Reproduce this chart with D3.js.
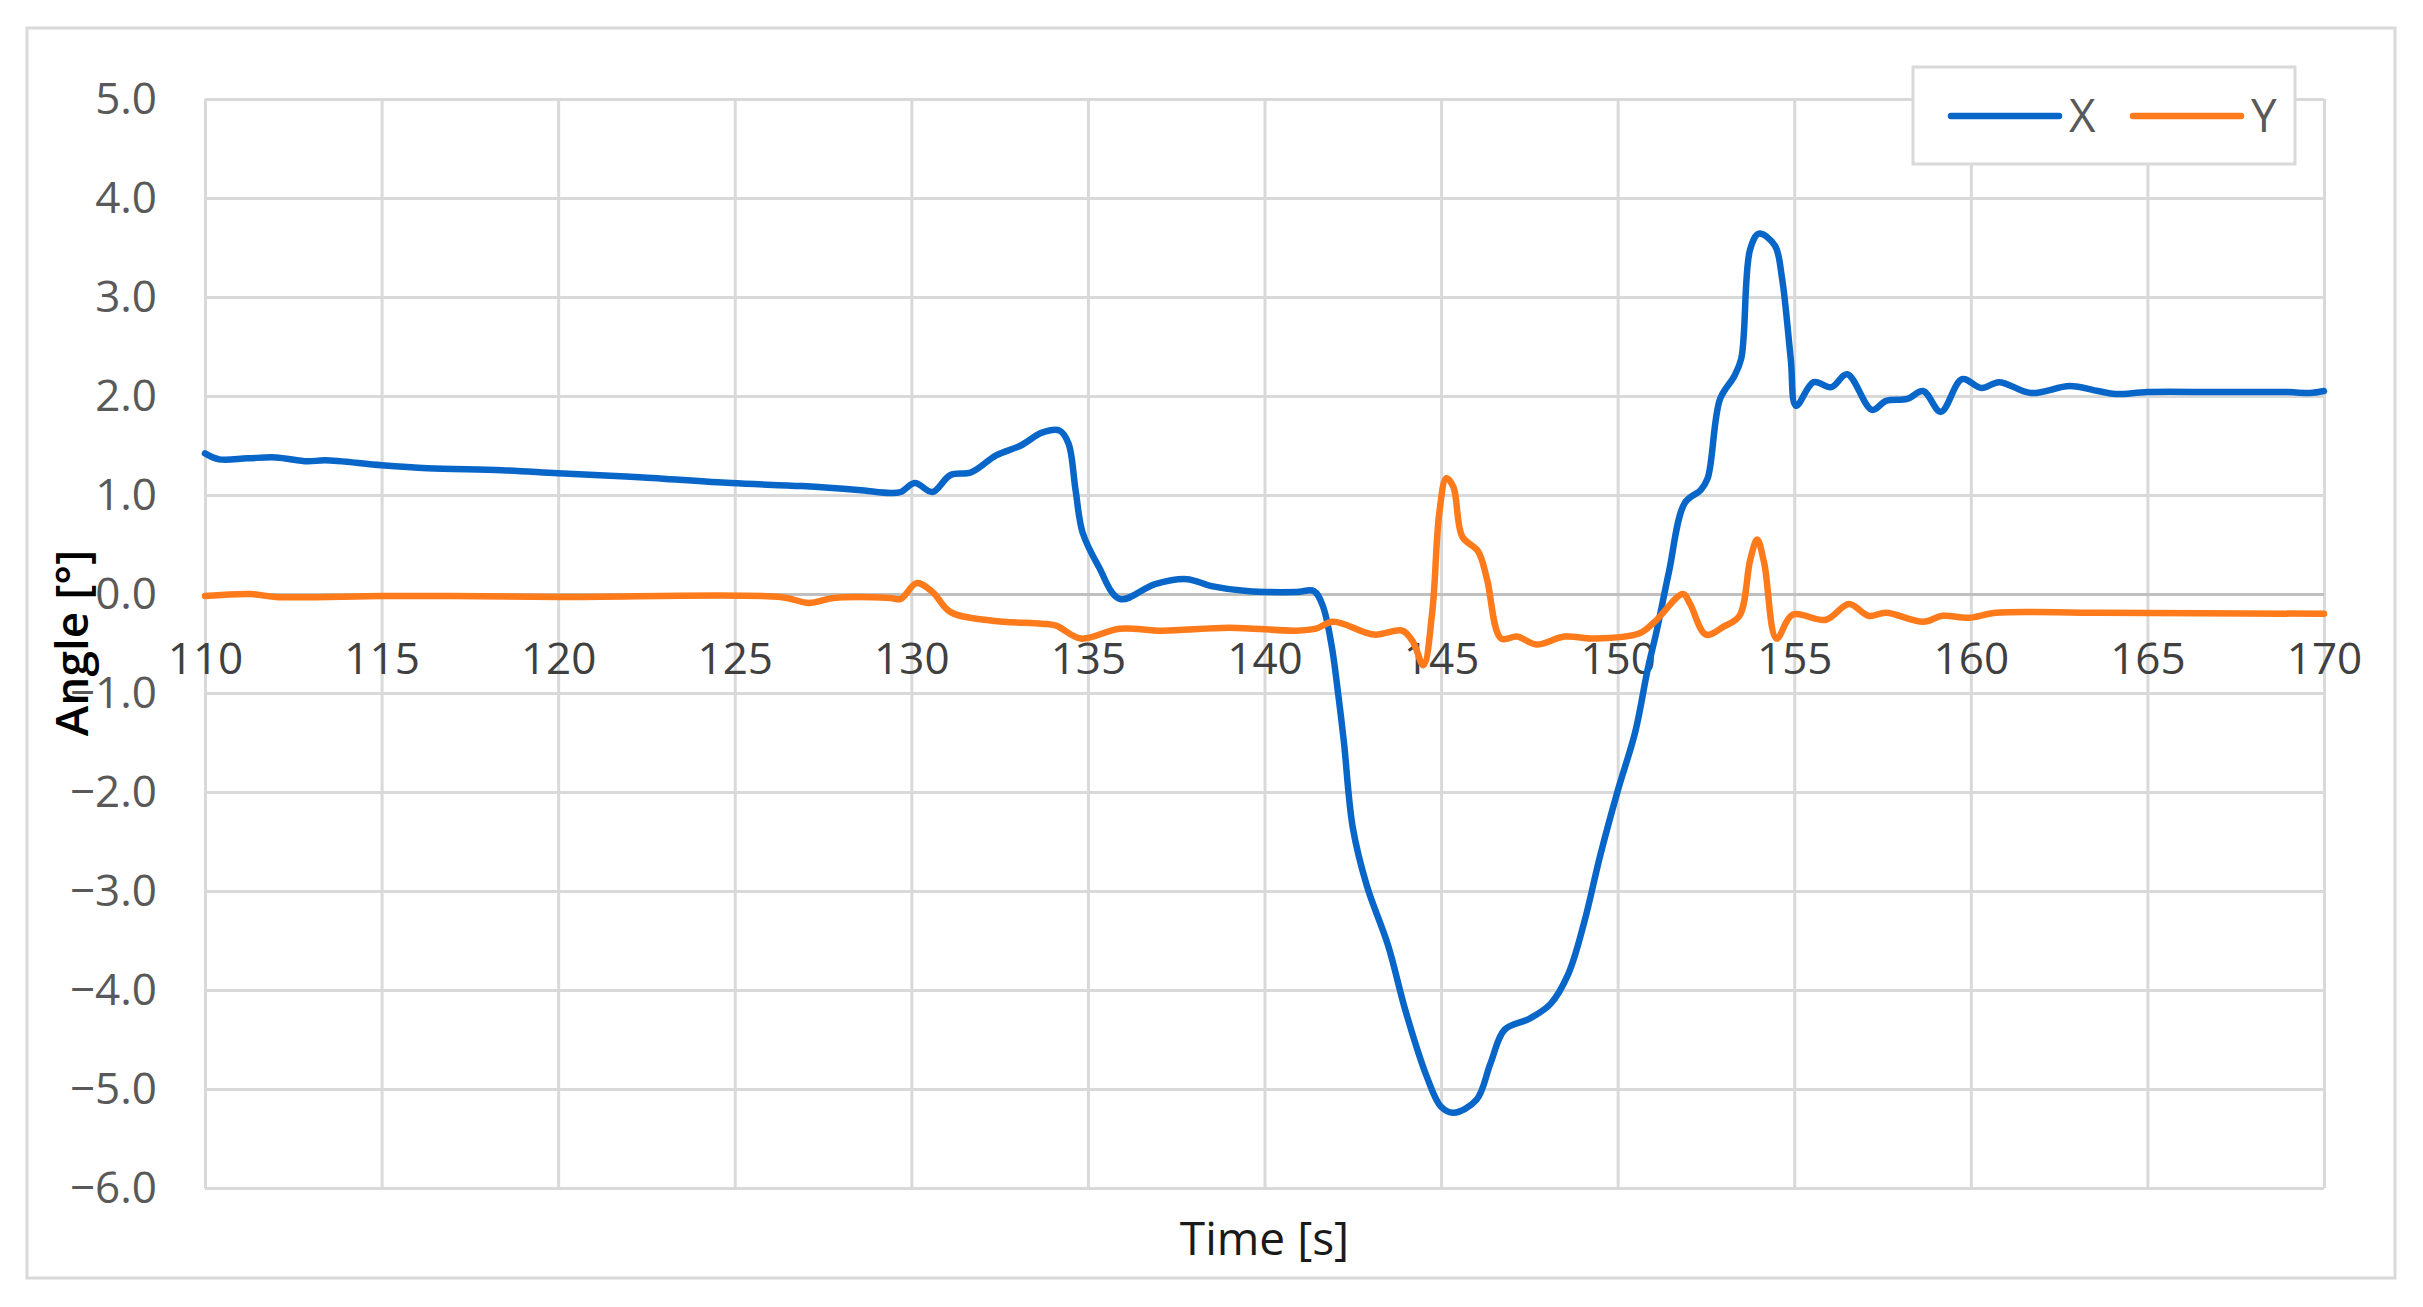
<!DOCTYPE html>
<html>
<head>
<meta charset="utf-8">
<script src="https://cdn.jsdelivr.net/npm/d3@7"></script>
<style>
  body { margin: 0; background: #fff; }
  svg text { font-family: "Open Sans", "Noto Sans", sans-serif; }
</style>
</head>
<body>
<div id="chart"></div>
<script>
// données
const xTime = [110.0, 110.4, 111.2, 112.0, 112.9, 113.4, 115.0, 116.3, 118.4, 120.0, 122.3, 124.9, 126.9, 128.5, 129.4, 129.7,
  130.1, 130.6, 131.1, 131.7, 132.4, 133.1, 133.7, 134.2, 134.45, 134.65, 134.85, 135.3, 135.9, 136.9, 137.8, 138.5, 139.5,
  140.9, 141.4, 141.65, 141.9, 142.1, 142.25, 142.5, 142.9, 143.5, 144.0, 144.6, 145.0, 145.35, 146.0, 146.4, 146.8, 147.5,
  148.1, 148.6, 149.05, 149.5, 150.0, 150.5, 150.85, 151.1, 151.45, 151.9, 152.35, 152.55, 152.9, 153.3, 153.5, 153.75,
  154.0, 154.45, 154.65, 154.9, 155.05, 155.55, 156.05, 156.5, 157.2, 157.6, 158.2, 158.65, 159.15, 159.75, 160.3, 160.8,
  161.7, 162.8, 163.6, 164.1, 165.0, 167.0, 169.0, 169.6, 170.0];
const xAngle = [1.42, 1.36, 1.37, 1.38, 1.34, 1.35, 1.30, 1.27, 1.25, 1.22, 1.18, 1.12, 1.09, 1.05, 1.02, 1.03,
  1.12, 1.03, 1.20, 1.23, 1.40, 1.50, 1.63, 1.65, 1.52, 1.05, 0.62, 0.28, -0.05, 0.10, 0.15, 0.08, 0.03,
  0.02, 0.03, -0.12, -0.52, -1.05, -1.50, -2.36, -2.95, -3.55, -4.22, -4.88, -5.18, -5.24, -5.11, -4.74, -4.40, -4.29,
  -4.14, -3.84, -3.32, -2.65, -1.99, -1.39, -0.76, -0.38, 0.22, 0.92, 1.05, 1.17, 1.97, 2.20, 2.38, 3.48,
  3.64, 3.52, 3.20, 2.38, 1.90, 2.14, 2.09, 2.22, 1.86, 1.95, 1.97, 2.05, 1.84, 2.17, 2.08, 2.14,
  2.03, 2.10, 2.05, 2.02, 2.04, 2.04, 2.04, 2.03, 2.05];

const yTime = [110.0, 111.3, 112.0, 115.0, 117.0, 120.0, 126.3, 127.1, 127.8, 129.4, 129.7, 130.15, 130.6, 131.1, 132.3,
  133.7, 134.1, 134.8, 135.9, 137.1, 139.0, 140.9, 141.45, 141.95, 143.1, 143.9, 144.2, 144.5, 144.75, 144.95, 145.15,
  145.35, 145.6, 146.05, 146.3, 146.7, 147.15, 147.7, 148.5, 149.35, 150.6, 151.05, 151.85, 152.05, 152.5, 153.0, 153.45,
  153.75, 153.95, 154.15, 154.5, 154.95, 155.9, 156.55, 157.1, 157.6, 158.65, 159.2, 159.95, 160.7, 163.6, 170.0];
const yAngle = [-0.02, 0.00, -0.03, -0.02, -0.02, -0.03, -0.03, -0.09, -0.04, -0.04, -0.05, 0.11, 0.02, -0.18, -0.27,
  -0.30, -0.32, -0.45, -0.35, -0.37, -0.34, -0.37, -0.35, -0.28, -0.41, -0.37, -0.48, -0.72, -0.18, 0.82, 1.17,
  1.08, 0.58, 0.43, 0.15, -0.45, -0.43, -0.51, -0.43, -0.45, -0.40, -0.28, 0.00, -0.10, -0.41, -0.33, -0.22,
  0.34, 0.55, 0.31, -0.45, -0.21, -0.26, -0.10, -0.22, -0.19, -0.28, -0.22, -0.24, -0.19, -0.19, -0.20];

const timeTicks = [110, 115, 120, 125, 130, 135, 140, 145, 150, 155, 160, 165, 170];
const angleTicks = [-6, -5, -4, -3, -2, -1, 0, 1, 2, 3, 4, 5];
const seriesNames = ["X", "Y"];
const seriesColors = ["#0966c9", "#ff7a1a"];

// dimensions
const W = 2423, H = 1307;
const margin = { top: 99, right: 99, bottom: 119, left: 205 };
const width = W - margin.left - margin.right;
const height = H - margin.top - margin.bottom;

const svg = d3.select("#chart").append("svg")
  .attr("width", W)
  .attr("height", H);

// cadre extérieur
svg.append("rect")
  .attr("x", 27).attr("y", 28)
  .attr("width", 2368).attr("height", 1250)
  .attr("fill", "#fff")
  .attr("stroke", "#d9d9d9")
  .attr("stroke-width", 3);

const g = svg.append("g")
  .attr("transform", `translate(${margin.left},${margin.top})`);

const x = d3.scaleLinear().domain([110, 170]).range([0, width]);
const y = d3.scaleLinear().domain([-6, 5]).range([height, 0]);

// grille verticale
g.append("g")
  .attr("class", "grid-x")
  .attr("transform", `translate(0,${height})`)
  .call(d3.axisBottom(x).tickValues(timeTicks).tickSize(-height).tickFormat(""))
  .call(s => s.select(".domain").remove())
  .call(s => s.selectAll("line").attr("stroke", "#d9d9d9").attr("stroke-width", 3));

// grille horizontale + étiquettes Y
g.append("g")
  .attr("class", "axis-y")
  .call(d3.axisLeft(y).tickValues(angleTicks).tickSize(-width).tickPadding(48).tickFormat(d3.format(".1f")))
  .call(s => s.select(".domain").remove())
  .call(s => s.selectAll("line")
    .attr("stroke", d => d === 0 ? "#bfbfbf" : "#d9d9d9")
    .attr("stroke-width", 3))
  .call(s => s.selectAll("text")
    .attr("fill", "#595959")
    .style("font-size", "44px"));

// étiquettes de l'axe des temps, posées sur la ligne zéro
g.append("g")
  .attr("class", "axis-x")
  .attr("transform", `translate(0,${y(0)})`)
  .call(d3.axisBottom(x).tickValues(timeTicks).tickSize(0).tickPadding(49).tickFormat(d3.format("d")))
  .call(s => s.select(".domain").remove())
  .call(s => s.selectAll("text")
    .attr("fill", "#404040")
    .style("font-size", "44px"));

// courbes
const line = d3.line()
  .x(d => x(d[0]))
  .y(d => y(d[1]))
  .curve(d3.curveCatmullRom.alpha(0.5));

const series = [
  d3.zip(xTime, xAngle),
  d3.zip(yTime, yAngle)
];

series.forEach((data, i) => {
  g.append("path")
    .datum(data)
    .attr("fill", "none")
    .attr("stroke", seriesColors[i])
    .attr("stroke-width", 6.5)
    .attr("stroke-linejoin", "round")
    .attr("stroke-linecap", "round")
    .attr("d", line);
});

// titres des axes
svg.append("text")
  .attr("x", margin.left + width / 2)
  .attr("y", 1255)
  .attr("text-anchor", "middle")
  .attr("fill", "#1a1a1a")
  .style("font-size", "46px")
  .text("Time [s]");

svg.append("text")
  .attr("transform", "translate(88,643) rotate(-90)")
  .attr("text-anchor", "middle")
  .attr("fill", "#000")
  .style("font-size", "46px")
  .style("font-weight", "600")
  .text("Angle  [°]");

// légende
const legend = svg.append("g");
legend.append("rect")
  .attr("x", 1913).attr("y", 67)
  .attr("width", 382).attr("height", 97)
  .attr("fill", "#fff")
  .attr("stroke", "#d9d9d9")
  .attr("stroke-width", 3);

const legendX = [1951, 2133];
seriesNames.forEach((name, i) => {
  legend.append("line")
    .attr("x1", legendX[i]).attr("x2", legendX[i] + 108)
    .attr("y1", 116).attr("y2", 116)
    .attr("stroke", seriesColors[i])
    .attr("stroke-width", 6.5)
    .attr("stroke-linecap", "round");
  legend.append("text")
    .attr("x", legendX[i] + 118)
    .attr("y", 132)
    .attr("fill", "#595959")
    .style("font-size", "46px")
    .text(name);
});
</script>
</body>
</html>
